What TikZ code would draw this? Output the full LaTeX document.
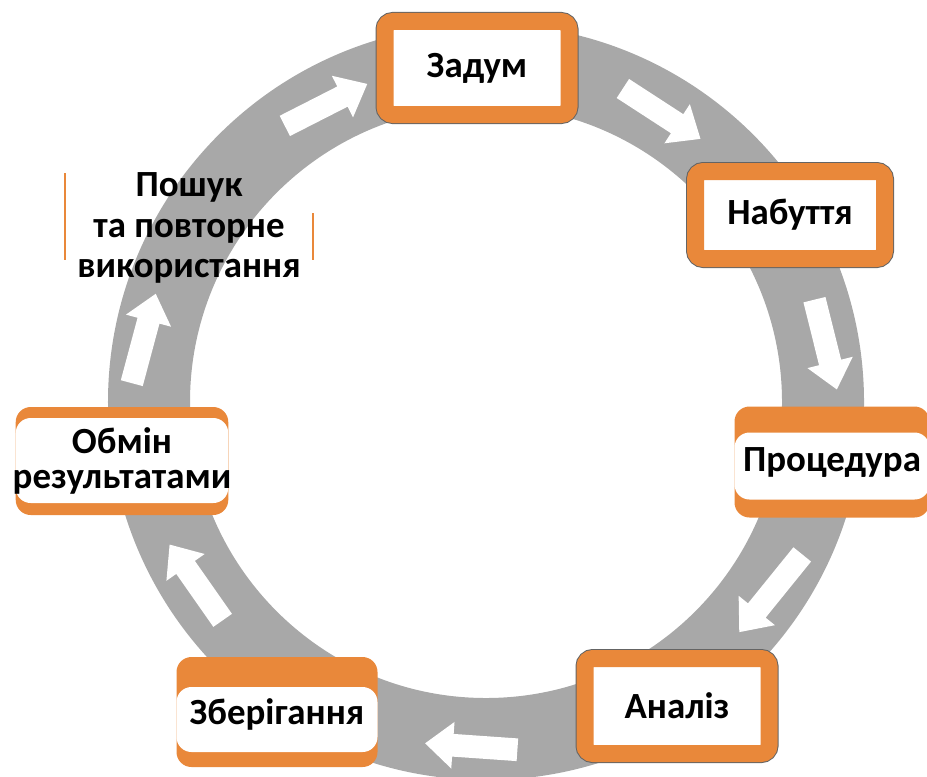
\documentclass[tikz,border=0pt]{standalone}
\usepackage{fontspec}
\setmainfont{Carlito}
\usetikzlibrary{shapes.arrows}

\definecolor{boxorange}{RGB}{233,136,58}
\definecolor{ringgray}{RGB}{168,168,168}
\definecolor{edgegray}{RGB}{100,100,100}

\begin{document}
\begin{tikzpicture}[
      x=0.2mm, y=-0.2mm,
      stagetext/.style={
          font=\bfseries\fontsize{21}{23}\selectfont, align=center
      },
      stagebox/.style={
          stagetext, rectangle, rounded corners=1.6mm,
          fill=white, draw=boxorange, line width=3.4mm,
          preaction={draw=edgegray, line width=3.8mm},
          minimum width=36.8mm, minimum height=18.6mm, inner sep=0pt
      },
      stripbox/.style 2 args={
          stagetext, rectangle, rounded corners=3mm,
          fill=boxorange, inner sep=0pt,
          minimum width=40.2mm, minimum height=22mm,
          path picture={
              \fill[white] ([yshift=-#1]path picture bounding box.north west)
                  rectangle ([yshift=#2]path picture bounding box.south east);
          }
      },
      flowarrow/.style={
          single arrow, fill=white, inner xsep=0pt, inner ysep=2.2mm,
          minimum height=18.5mm,
          single arrow head extend=2.4mm, single arrow tip angle=80
      },
      sideline/.style={draw=boxorange, line width=0.4mm}
  ]
    \clip (0,0) rectangle (927,776);

    % grey ring
    \draw[ringgray, line width=16.4mm] (486,402) circle [radius=67.4mm];

    % white arrows on the ring
    \node[flowarrow, rotate=27] (a1) at (320,108) {};
    \node[flowarrow, rotate=-33] (a2) at (656,110) {};
    \node[flowarrow, rotate=-76] (a3) at (824,338) {};
    \node[flowarrow, rotate=-129, minimum height=20mm] (a4) at (775,588) {};
    \node[flowarrow, rotate=176] (a5) at (478,747) {};
    \node[flowarrow, rotate=125] (a6) at (200,588) {};
    \node[flowarrow, rotate=75] (a7) at (142,345) {};

    % stages
    \node[stagebox] (idea) at (477,68) {Задум};
    \node[stagebox, minimum width=37.8mm, minimum height=17.4mm] (acquire) at (790,215) {Набуття};
    \node[stripbox={5.2mm}{3.6mm}, minimum width=39mm, minimum height=22.2mm] (procedure) at (832,462) {Процедура};
    \node[stagebox, minimum height=19mm] (analysis) at (677,706) {Аналіз};
    \node[stripbox={6mm}{3mm}, text depth=0pt, yshift=-1.4mm] (storage) at (277,705) {Зберігання};
    \node[stripbox={2.2mm}{2.4mm}, minimum width=41.8mm, minimum height=21.6mm, inner xsep=-0.6mm,
          font=\bfseries\fontsize{21}{20}\selectfont] (share) at (122,461) {Обмін\\результатами};

    % search and reuse, only its side lines are left
    \node[stagetext, minimum width=49.6mm, inner sep=0pt] (reuse) at (189,228)
        {Пошук\\та повторне\\використання};
    \draw[sideline] ([yshift=11mm]reuse.west) -- ([yshift=-6.4mm]reuse.west);
    \draw[sideline] ([yshift=3mm]reuse.east) -- ([yshift=-6.4mm]reuse.east);
  \end{tikzpicture}
\end{document}
